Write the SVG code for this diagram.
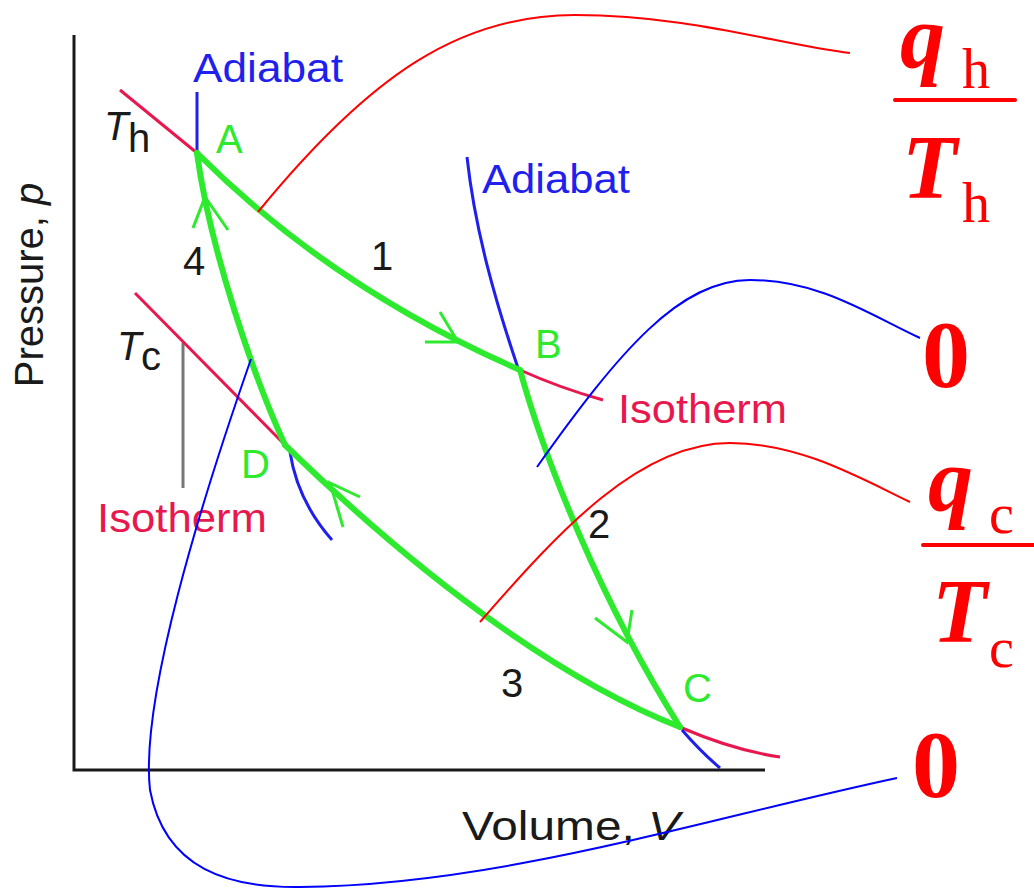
<svg xmlns="http://www.w3.org/2000/svg" width="1034" height="889" viewBox="0 0 1034 889">
<style>
.axis{fill:none;stroke:#1a1a1a;stroke-width:3}
.iso{fill:none;stroke:#e8184e;stroke-width:3}
.adi{fill:none;stroke:#1f1fee;stroke-width:3}
.cyc{fill:none;stroke:#2eea2e;stroke-width:6;stroke-linecap:round}
.arr{fill:none;stroke:#2eea2e;stroke-width:3}
.cr{fill:none;stroke:#ff0000;stroke-width:2}
.cb{fill:none;stroke:#0000ff;stroke-width:2}
.lab{font-family:"Liberation Sans",Arial,sans-serif;font-size:40px}
.blue{fill:#1f1fee}
.green{fill:#2eea2e}
.pink{fill:#e8184e}
.blk{fill:#1a1a1a}
.fm{font-family:"Liberation Serif","Times New Roman",serif;fill:#ff0000}
.big{font-size:90px;font-weight:bold;font-style:italic}
.sub{font-size:56px}
.zero{font-size:96px;font-weight:bold}
</style>
<rect width="1034" height="889" fill="#ffffff"/>
<g id="axes">
<path class="axis" d="M74,35 V770 H765"/>
<line x1="183" y1="343" x2="183" y2="488" stroke="#777" stroke-width="3"/>
<text class="lab blk" font-size="42" transform="translate(43,285) rotate(-90)" text-anchor="middle">Pressure, <tspan font-style="italic">p</tspan></text>
<text class="lab blk" x="462" y="840" font-size="42" textLength="218" lengthAdjust="spacingAndGlyphs">Volume,  <tspan font-style="italic">V</tspan></text>
</g>
<g id="isotherms">
<path class="iso" d="M120,90 L197,153"/>
<path class="iso" d="M520,370 Q560,388 603,400"/>
<path class="iso" d="M135,293 L285,445"/>
<path class="iso" d="M682,728 C710,740 745,752 780,757"/>
</g>
<g id="adiabats">
<path class="adi" d="M197,92 L197,152"/>
<path class="adi" d="M467,157 C475,230 495,300 518,368"/>
<path class="adi" d="M290,452 C295,485 310,515 332,540"/>
<path class="adi" d="M682,730 C695,745 707,757 720,768"/>
</g>
<g id="cycle">
<path class="cyc" d="M197,153 C297,253 410,322 520,370"/>
<path class="cyc" d="M520,370 C545,460 600,600 680,727"/>
<path class="cyc" d="M285,445 C439,595 575,686 680,727"/>
<path class="cyc" d="M285,445 C255,380 210,250 197,153"/>
<polyline class="arr" points="440,312 458,342 425,342"/>
<polyline class="arr" points="595,618 627,642 632,610"/>
<polyline class="arr" points="360,497 330,483 343,527"/>
<polyline class="arr" points="193,228 205,197 228,230"/>
</g>
<g id="labels">
<text class="lab blue" x="193" y="82" font-size="37" textLength="150" lengthAdjust="spacingAndGlyphs">Adiabat</text>
<text class="lab blue" x="482" y="193" font-size="37" textLength="148" lengthAdjust="spacingAndGlyphs">Adiabat</text>
<text class="lab pink" x="618" y="423" font-size="38" textLength="169" lengthAdjust="spacingAndGlyphs">Isotherm</text>
<text class="lab pink" x="97" y="532" font-size="38" textLength="170" lengthAdjust="spacingAndGlyphs">Isotherm</text>
<text class="lab blk" x="104" y="140" font-style="italic">T</text>
<text class="lab blk" x="128" y="152" font-size="32">h</text>
<text class="lab blk" x="117" y="360" font-style="italic">T</text>
<text class="lab blk" x="141" y="370" font-size="32">c</text>
<text class="lab green" x="216" y="153" font-size="41">A</text>
<text class="lab green" x="535" y="358" font-size="40">B</text>
<text class="lab green" x="683" y="702" font-size="40">C</text>
<text class="lab green" x="241" y="478" font-size="40">D</text>
<text class="lab blk" x="371" y="270" font-size="38">1</text>
<text class="lab blk" x="588" y="538" font-size="39">2</text>
<text class="lab blk" x="501" y="697" font-size="41">3</text>
<text class="lab blk" x="183" y="275" font-size="43">4</text>
</g>
<g id="connectors">
<path class="cr" d="M258,212 C370,75 460,15 575,15 C690,15 780,45 850,53"/>
<path class="cb" d="M537,467 C620,350 680,280 750,280 C820,280 870,315 920,338"/>
<path class="cr" d="M480,622 C560,530 640,443 730,443 C800,443 860,478 910,502"/>
<path class="cb" d="M251,359 C200,505 140,700 150,790 C165,870 230,888 300,887 C500,885 700,820 897,778"/>
</g>
<g id="formula-qh">
<text class="fm big" x="900" y="68">q</text>
<text class="fm sub" x="962" y="88">h</text>
<line x1="895" y1="100" x2="1015" y2="100" stroke="#ff0000" stroke-width="4" stroke-linecap="round"/>
<text class="fm big" x="902" y="198">T</text>
<text class="fm sub" x="962" y="222">h</text>
</g>
<g id="formula-zero1">
<text class="fm zero" x="946" y="387" text-anchor="middle">0</text>
</g>
<g id="formula-qc">
<text class="fm big" x="928" y="511">q</text>
<text class="fm sub" x="989" y="533">c</text>
<line x1="923" y1="545" x2="1034" y2="545" stroke="#ff0000" stroke-width="4" stroke-linecap="round"/>
<text class="fm big" x="932" y="642">T</text>
<text class="fm sub" x="989" y="667">c</text>
</g>
<g id="formula-zero2">
<text class="fm zero" x="936" y="797" text-anchor="middle">0</text>
</g>
</svg>
